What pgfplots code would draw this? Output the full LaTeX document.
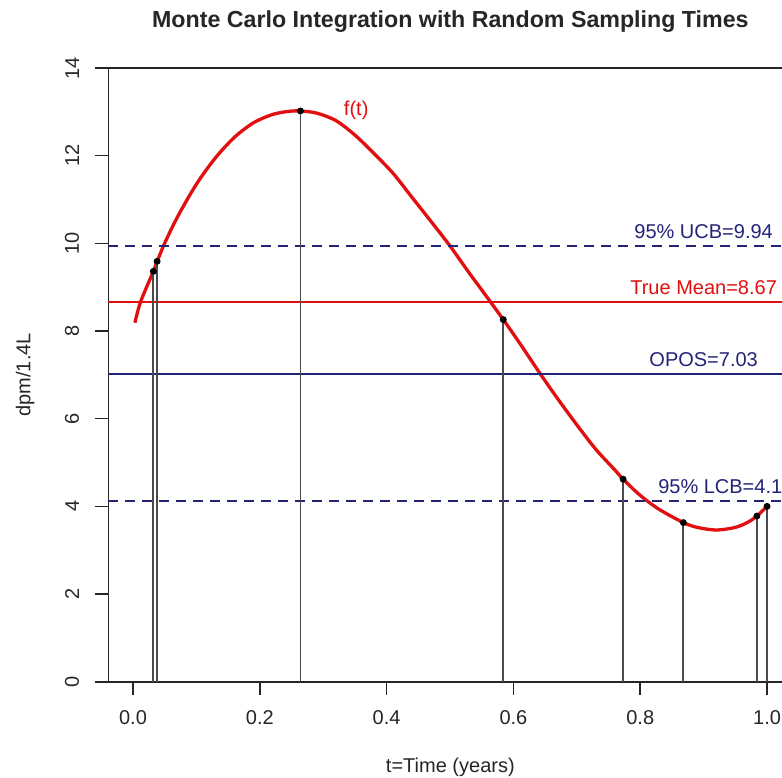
\documentclass[border=0pt]{standalone}
\usepackage{pgfplots}
\pgfplotsset{compat=1.18}
\usepackage{fontspec}
\setmainfont{Liberation Sans}
\definecolor{curvered}{RGB}{225,15,15}
\definecolor{navyb}{RGB}{35,35,120}
\definecolor{stemgray}{RGB}{75,75,75}

% f(t)
\pgfplotstableread{
t f
0.003 8.19
0.012 8.67
0.032 9.36
0.048 9.94
0.070 10.60
0.100 11.35
0.130 11.95
0.160 12.42
0.190 12.75
0.220 12.94
0.245 13.01
0.264 13.02
0.290 12.97
0.320 12.80
0.350 12.47
0.380 12.05
0.410 11.60
0.440 11.05
0.470 10.50
0.500 9.94
0.530 9.33
0.560 8.74
0.584 8.26
0.610 7.72
0.642 7.03
0.670 6.45
0.700 5.86
0.730 5.30
0.760 4.83
0.773 4.62
0.800 4.25
0.830 3.93
0.868 3.63
0.890 3.52
0.920 3.46
0.950 3.52
0.970 3.64
0.984 3.78
1.000 4.00
}\curve

% sampling times
\pgfplotstableread{
t f
0.032 9.36
0.038 9.59
0.264 13.02
0.584 8.26
0.773 4.62
0.868 3.63
0.984 3.78
1.000 4.00
}\samples

\begin{document}
\begin{tikzpicture}
\begin{axis}[
  at={(0,0)}, anchor=south west,
  scale only axis, width=342.05pt, height=306.85pt,
  xmin=-0.039, xmax=1.04, ymin=0, ymax=14,
  xtick={0,0.2,0.4,0.6,0.8,1.0},
  ytick={0,2,4,6,8,10,12,14},
  xticklabels={0.0,0.2,0.4,0.6,0.8,1.0},
  /pgf/number format/assume math mode=true,
  tick pos=left, tick align=outside, major tick length=6.5pt,
  tick style={black!85, line width=0.8pt},
  axis line style={line width=0.8pt, black!85},
  xticklabel shift=4.3pt, yticklabel shift=4.6pt,
  ticklabel style={font=\fontsize{10}{12}\selectfont, text=black!85},
  yticklabel style={rotate=90, anchor=south},
  xlabel={t=Time (years)}, ylabel={dpm/1.4L},
  xlabel style={at={(axis description cs:0.5,-0.1389)}, anchor=center, font=\fontsize{10}{12}\selectfont, text=black!85},
  ylabel style={at={(axis description cs:-0.1216,0.5)}, anchor=center, font=\fontsize{10}{12}\selectfont, text=black!85},
  title={Monte Carlo Integration with Random Sampling Times},
  every axis title shift=0pt,
  title style={at={(axis description cs:0.5,1.075)}, anchor=center, yshift=0pt, font=\fontsize{11.6}{14}\selectfont\bfseries, text=black!85},
  clip=true,
]
\addplot[curvered, line width=1.65pt, smooth] table[x=t, y=f] {\curve};
\addplot[navyb, line width=1.2pt, dash pattern=on 5pt off 3.5pt] coordinates {(-0.039,9.94) (1.04,9.94)};
\addplot[curvered, line width=0.9pt] coordinates {(-0.039,8.67) (1.04,8.67)};
\addplot[navyb, line width=1pt] coordinates {(-0.039,7.03) (1.04,7.03)};
\addplot[navyb, line width=1.2pt, dash pattern=on 5pt off 3.5pt] coordinates {(-0.039,4.12) (1.04,4.12)};
\addplot[stemgray, line width=0.9pt, ycomb, mark=*, mark size=1.25pt, mark options={black}] table[x=t, y=f] {\samples};
\node[navyb, font=\fontsize{10}{12}\selectfont] at (axis cs:0.90,10.26) {95\% UCB=9.94};
\node[curvered, font=\fontsize{10}{12}\selectfont] at (axis cs:0.90,8.99) {True Mean=8.67};
\node[navyb, font=\fontsize{10}{12}\selectfont] at (axis cs:0.90,7.35) {OPOS=7.03};
\node[navyb, font=\fontsize{10}{12}\selectfont] at (axis cs:0.935,4.44) {95\% LCB=4.12};
\node[curvered, font=\fontsize{10}{12}\selectfont] at (axis cs:0.352,13.03) {f(t)};
\end{axis}
\pgfresetboundingbox
\useasboundingbox (-54.15pt,-47.65pt) rectangle (336.85pt,340.85pt);
\end{tikzpicture}
\end{document}
